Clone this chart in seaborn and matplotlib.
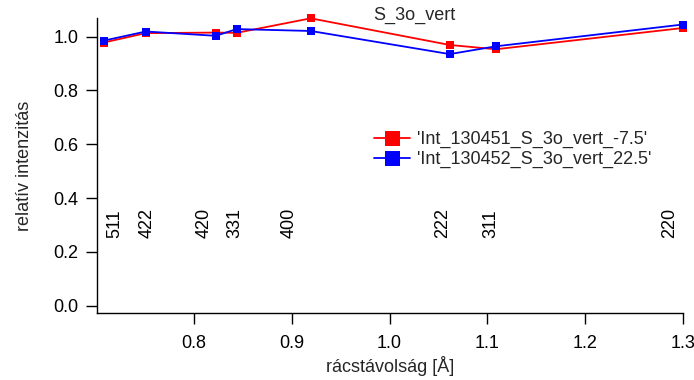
import matplotlib
matplotlib.use("Agg")
import matplotlib.pyplot as plt
import seaborn as sns
import pandas as pd

# --- data ---
reflections = ["511", "422", "420", "331", "400", "222", "311", "220"]
d_spacing = [0.7076, 0.7506, 0.8222, 0.8436, 0.9193, 1.0615, 1.1087, 1.3000]
int_m75 = [0.978, 1.013, 1.015, 1.014, 1.068, 0.969, 0.953, 1.032]
int_p225 = [0.985, 1.019, 1.003, 1.028, 1.021, 0.935, 0.964, 1.045]
label_x = [0.7191, 0.7516, 0.8102, 0.8420, 0.8972, 1.0538, 1.1040, 1.2862]
label_y = 0.250
series_names = ["'Int_130451_S_3o_vert_-7.5'", "'Int_130452_S_3o_vert_22.5'"]
title = "S_3o_vert"
xlabel = "rácstávolság [Å]"
ylabel = "relatív intenzitás"
xticks = [0.8, 0.9, 1.0, 1.1, 1.2, 1.3]
yticks = [0.0, 0.2, 0.4, 0.6, 0.8, 1.0]

df = pd.DataFrame({
    "d": d_spacing * 2,
    "I": int_m75 + int_p225,
    "series": [series_names[0]] * len(d_spacing) + [series_names[1]] * len(d_spacing),
})

FS = 13

sns.set_style("ticks")
plt.rcParams["font.family"] = ["Liberation Sans", "DejaVu Sans"]
plt.rcParams["font.size"] = FS

fig = plt.figure(figsize=(6.94, 3.80), dpi=100)
ax = fig.add_axes([0.1393, 0.1763, 0.984 - 0.1393, 0.9518 - 0.1763])

sns.lineplot(data=df, x="d", y="I", hue="series", palette=["#ff0000", "#0000ff"],
             marker="s", markersize=6, markeredgewidth=0, linewidth=1.3,
             sort=True, ax=ax, legend=True, clip_on=False)

for lab, lx in zip(reflections, label_x):
    ax.text(lx, label_y, lab, rotation=90, ha="center", va="bottom", fontsize=FS, color="black")

ax.set_xlim(0.7004, 1.3)
ax.set_ylim(-0.027, 1.068)
ax.set_xticks(xticks)
ax.set_xticklabels([f"{t:.1f}" for t in xticks])
ax.set_yticks(yticks)
ax.set_yticklabels([f"{t:.1f}" for t in yticks])
ax.tick_params(axis="y", direction="out", length=8, width=1, pad=5, labelsize=FS, colors="black")
ax.tick_params(axis="x", direction="out", length=8, width=1, pad=8, labelsize=FS, colors="black")
for s in ["top", "right"]:
    ax.spines[s].set_visible(False)
for s in ["left", "bottom"]:
    ax.spines[s].set_linewidth(1)
    ax.spines[s].set_color("black")

ax.set_xlabel(xlabel, fontsize=FS, labelpad=3)
ax.set_ylabel(ylabel, fontsize=FS, labelpad=15)

fig.text(414 / 694, 1 - 20 / 380, title, ha="center", va="baseline", fontsize=FS)

leg = ax.legend(loc="upper left", bbox_to_anchor=((374 - 96.7) / (683 - 96.7), 1 - (131 - 18.3) / (313 - 18.3)),
                frameon=False, fontsize=FS, markerscale=1.8, handlelength=2.0,
                handletextpad=0.4, labelspacing=0.15, borderpad=0, borderaxespad=0)

fig.savefig("out.png", dpi=100)
